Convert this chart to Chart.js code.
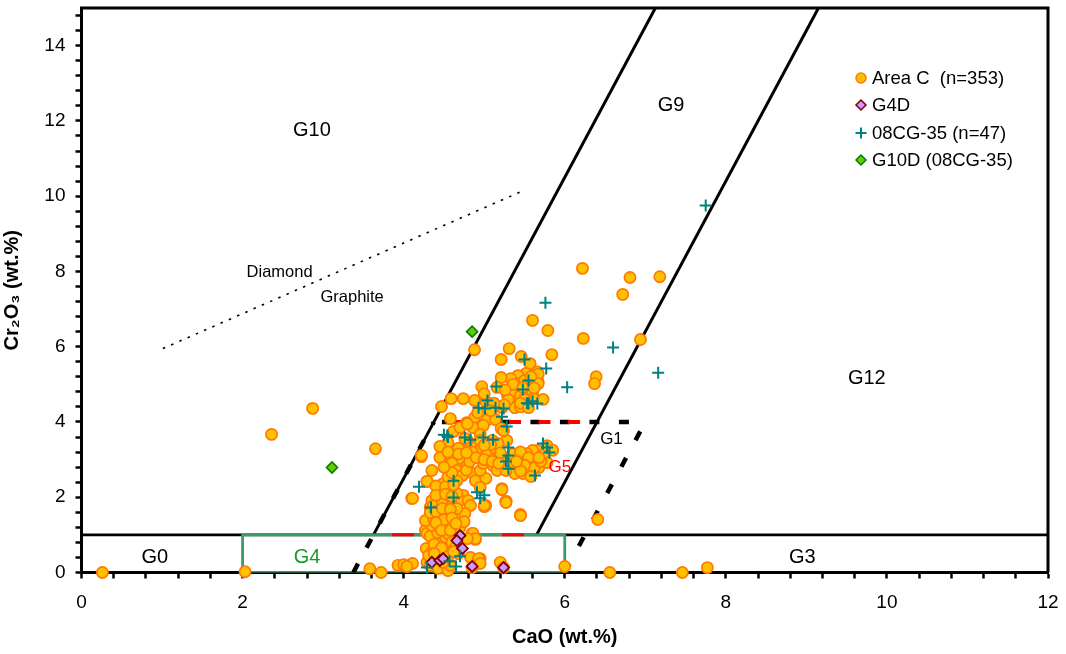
<!DOCTYPE html>
<html>
<head>
<meta charset="utf-8">
<script src="https://cdn.jsdelivr.net/npm/chart.js@4.4.1/dist/chart.umd.min.js"></script>
<style>
  html, body { margin: 0; padding: 0; background: #ffffff; }
  #wrap { width: 1066px; height: 654px; }
</style>
</head>
<body>
<div id="wrap"><canvas id="c" width="1066" height="654"></canvas></div>
<script>
// ---------------- DATA ----------------
// Area C garnets (n=353) — CaO (wt.%) and Cr2O3 (wt.%)
const areaC_CaO = [
  0.26,2.03,2.36,2.87,3.65,3.72,3.58,6.22,6.81,7.18,6.72,5.60,5.79,6.23,6.94,4.88,5.84,6.39,6.37,5.31,
  5.21,5.46,5.57,6.41,6.00,6.56,7.46,7.77,5.45,5.27,5.22,5.00,4.10,4.29,4.22,
  5.66,5.52,5.42,5.33,5.21,5.67,5.56,5.43,4.97,5.16,5.36,5.47,5.60,5.40,5.29,5.32,5.42,5.53,5.61,5.73,
  5.38,5.22,4.59,4.74,4.88,4.47,5.02,4.88,4.58,4.78,5.04,5.14,4.86,4.99,5.21,4.95,5.10,5.28,5.67,5.67,
  5.35,5.45,5.30,5.50,5.25,5.45,
  4.22,4.35,4.29,4.11,4.49,4.58,4.70,4.60,4.79,4.66,4.73,4.66,4.86,4.89,4.49,4.58,4.48,4.64,4.74,4.55,
  4.45,4.37,4.70,4.80,4.33,4.43,4.83,5.02,5.27,5.22,5.02,4.95,4.99,5.07,5.11,5.16,5.22,4.95,5.04,4.91,
  4.83,5.14,5.17,4.79,4.95,5.24,5.45,5.53,5.61,5.66,5.73,5.63,5.42,5.53,5.38,5.48,5.57,5.41,5.35,5.68,
  5.78,5.76,5.60,5.53,5.47,5.78,5.27,
  4.45,4.35,4.45,4.66,4.95,4.27,4.28,4.85,4.89,4.95,4.62,4.70,4.55,4.68,4.85,4.45,4.79,4.76,
  5.45,5.00,5.27,3.93,4.00,4.11,4.04,4.29,4.33,4.42,4.43,4.55,4.31,4.37,4.49,4.52,4.42,4.52,4.29,4.33,
  4.42,4.55,4.43,4.35,4.54,4.27,4.37,4.45,4.33,4.43,4.54,4.37,4.48,4.60,4.68,4.76,4.66,4.55,4.86,4.89,
  4.79,4.60,4.64,4.68,4.83,4.93,4.95,4.85,4.58,5.20,5.24,4.49,
  4.40,4.52,4.62,4.40,4.52,4.60,4.40,4.48,4.58,4.50,4.60,4.40,4.47,4.58,4.38,4.47,4.38,4.55,4.62,4.70,
  4.75,4.65,4.55,4.60,4.78,4.82,4.68,4.78,4.55,4.90,4.50,5.35,5.45,5.55,5.62,5.70,5.50,5.58,5.45,5.68,
  5.40,5.85,5.00,5.08,5.20,5.10,5.00,5.18,5.50,5.58,5.36,5.48,5.62,5.26,5.45,5.55,5.12,5.00,5.08,4.92
];
const areaC_Cr2O3 = [
  0.00,0.02,3.67,4.36,3.29,0.00,0.10,8.08,7.84,7.86,7.39,6.70,6.43,6.22,6.19,5.92,5.79,5.20,5.02,5.95,
  5.66,5.74,5.55,1.41,0.16,0.00,0.00,0.13,1.54,1.89,2.23,1.75,1.97,2.42,3.08,
  5.33,5.29,5.23,5.15,5.18,5.07,5.02,5.02,4.94,4.92,4.84,4.78,4.75,4.65,4.70,4.52,4.57,4.49,4.62,4.60,
  4.38,4.38,4.62,4.62,4.57,4.41,4.54,4.12,4.09,3.98,4.06,4.06,3.85,3.91,3.83,3.67,3.51,3.51,5.27,5.02,
  4.75,4.70,4.60,4.60,4.45,4.40,
  3.11,2.71,2.42,1.97,3.06,3.13,3.03,2.90,2.84,2.71,2.58,2.44,2.63,2.44,2.36,2.23,2.13,2.13,2.05,1.97,
  1.99,1.86,1.91,1.91,1.73,1.78,1.78,1.78,1.89,2.20,2.50,2.71,2.90,3.06,2.84,2.71,3.03,3.11,3.24,3.29,
  3.37,3.29,3.43,3.51,3.51,3.77,2.92,2.98,3.06,3.24,3.11,2.90,2.79,2.71,2.63,2.63,2.66,3.06,2.90,2.79,
  2.92,3.19,3.24,3.16,3.06,3.37,2.71,
  3.06,1.91,1.78,2.10,2.26,1.12,0.64,1.04,0.88,0.37,3.75,3.85,3.45,3.30,3.20,3.35,3.95,3.56,
  1.51,1.78,1.86,0.19,0.21,0.24,0.16,0.27,0.19,0.37,0.11,0.05,0.45,0.61,0.53,0.72,0.85,0.93,1.04,0.96,
  1.06,1.04,1.25,1.25,1.20,1.38,1.43,1.46,1.59,1.65,1.59,1.78,1.83,1.78,1.57,1.57,1.70,1.57,1.04,0.90,
  0.90,0.80,0.66,0.50,0.40,0.37,0.24,0.13,0.19,0.27,0.13,0.27,
  2.30,2.28,2.33,2.05,2.08,2.02,1.62,1.70,1.68,1.40,1.45,1.32,1.12,1.12,0.75,0.65,0.50,0.42,0.55,1.20,
  1.35,1.30,2.55,2.65,2.72,2.95,3.15,3.18,3.20,3.05,2.80,3.15,3.20,3.05,2.78,2.95,2.85,2.55,2.70,3.05,
  2.95,3.25,3.00,3.40,3.18,2.95,3.38,2.90,5.10,5.20,5.00,4.92,4.90,4.85,4.50,4.38,4.50,4.75,4.30,4.25
];
// G4D diamonds
const g4d_CaO   = [4.35,4.45,4.49,4.70,4.66,4.73,4.85,5.24];
const g4d_Cr2O3 = [0.27,0.32,0.37,0.98,0.85,0.64,0.16,0.13];
// 08CG-35 (n=47)
const cg35_CaO = [
  7.75,5.76,6.60,7.16,6.03,5.77,5.50,5.55,5.48,5.66,5.55,5.15,5.04,4.93,5.01,5.14,5.24,5.22,5.28,4.54,
  4.76,4.99,5.11,5.30,5.30,5.73,5.78,5.81,5.30,5.63,4.19,4.62,4.62,4.91,4.95,4.34,4.70,4.29,4.65,4.55,
  4.83,5.53,5.00,5.27,4.57,5.60,4.50
];
const cg35_Cr2O3 = [
  9.75,7.17,5.98,5.31,4.92,5.42,5.66,5.10,4.86,4.49,4.49,4.94,4.57,4.38,4.36,4.38,4.36,4.14,3.88,3.64,
  3.59,3.59,3.53,3.32,3.11,3.43,3.32,3.19,2.76,2.58,2.28,2.44,1.99,2.13,1.97,1.73,0.43,0.13,0.16,3.60,
  3.53,4.50,2.05,2.95,0.30,4.55,3.66
];
// G10D (08CG-35)
const g10d_CaO   = [3.11,4.85];
const g10d_Cr2O3 = [2.79,6.40];

// Classification boundaries
const bG10G9_CaO  = [3.625, 7.125], bG10G9_Cr  = [1, 15];
const bG9G12_CaO  = [5.65, 9.15],   bG9G12_Cr  = [1, 15];
const bLow_CaO    = [0, 12],        bLow_Cr    = [1, 1];
const bG4_CaO     = [2, 2, 6, 6, 2], bG4_Cr    = [0, 1, 1, 0, 0];
const bG10dash_CaO = [3.375, 4.375], bG10dash_Cr = [0, 4];
const bG1dash_CaO  = [6.0, 7.0],     bG1dash_Cr  = [0, 4];
const bY4_CaO      = [4.475, 6.8],   bY4_Cr      = [4, 4];
const bY4red_CaO   = [4.575, 6.4],   bY4red_Cr   = [4, 4];
const bY1red_CaO   = [3.855, 5.65],  bY1red_Cr   = [1, 1];
const bDG_CaO      = [1.01, 5.51],   bDG_Cr      = [5.95, 10.17];

const xMin = 0, xMax = 12, yMin = 0, yMax = 15, tickStep = 0.4, labelStep = 2;

const regionLabels = [
  {t:'G10', x:2.86, y:11.74, s:20, c:'#000'},
  {t:'G9',  x:7.32, y:12.40, s:20, c:'#000'},
  {t:'G12', x:9.75, y:5.16,  s:20, c:'#000'},
  {t:'G1',  x:6.58, y:3.54,  s:17, c:'#000'},
  {t:'G5',  x:5.94, y:2.80,  s:17, c:'#ff0000'},
  {t:'G0',  x:0.91, y:0.41,  s:20, c:'#000'},
  {t:'G4',  x:2.80, y:0.41,  s:20, c:'#1b9a2a'},
  {t:'G3',  x:8.95, y:0.41,  s:20, c:'#000'},
  {t:'Diamond',  x:2.46, y:7.97, s:16.5, c:'#000'},
  {t:'Graphite', x:3.36, y:7.31, s:16.5, c:'#000'}
];

const legendItems = [
  {t:'Area C  (n=353)',  m:'circle'},
  {t:'G4D',              m:'g4d'},
  {t:'08CG-35 (n=47)',   m:'cross'},
  {t:'G10D (08CG-35)',   m:'g10d'}
];

// ---------------- STYLE / BUILD ----------------
const FONT = 'Arial, "Liberation Sans", Helvetica, sans-serif';
const pts = (xs, ys) => xs.map((x, i) => ({x: x, y: ys[i]}));
const isMajor = v => Math.abs(v / labelStep - Math.round(v / labelStep)) < 1e-6;

const STY = {
  areaC: {fill:'#ffc000', stroke:'#ff7a00'},
  g4d:   {fill:'#cc99ff', stroke:'#800000'},
  cross: {stroke:'#008080'},
  g10d:  {fill:'#66cc00', stroke:'#008000'},
  box:   '#3d9a6a'
};

function lineDS(xs, ys, color, width, dash, order) {
  return {
    label: '', data: pts(xs, ys), showLine: true, pointRadius: 0, pointHoverRadius: 0,
    borderColor: color, borderWidth: width, borderDash: dash || [], fill: false,
    order: order, borderCapStyle: 'butt', borderJoinStyle: 'miter', tension: 0
  };
}

const datasets = [
  {label:'G10D (08CG-35)', data: pts(g10d_CaO, g10d_Cr2O3), pointStyle:'rectRot', pointRadius:5.5,
   backgroundColor: STY.g10d.fill, borderColor: STY.g10d.stroke, borderWidth:1.6, order:0, clip:false},
  {label:'08CG-35 (n=47)', data: pts(cg35_CaO, cg35_Cr2O3), pointStyle:'cross', pointRadius:6,
   borderColor: STY.cross.stroke, backgroundColor: STY.cross.stroke, borderWidth:2, order:1, clip:false},
  {label:'G4D', data: pts(g4d_CaO, g4d_Cr2O3), pointStyle:'rectRot', pointRadius:5.5,
   backgroundColor: STY.g4d.fill, borderColor: STY.g4d.stroke, borderWidth:1.8, order:2, clip:false},
  {label:'Area C  (n=353)', data: pts(areaC_CaO, areaC_Cr2O3), pointStyle:'circle', pointRadius:5.6,
   backgroundColor: STY.areaC.fill, borderColor: STY.areaC.stroke, borderWidth:1.7, order:3, clip:false},
  lineDS(bY1red_CaO, bY1red_Cr, '#ff0000', 3, [22, 33], 4),
  lineDS(bY4red_CaO, bY4red_Cr, '#ff0000', 4, [12, 17.5], 5),
  lineDS(bY4_CaO, bY4_Cr, '#000000', 4.5, [10, 19.5], 5),
  lineDS(bG1dash_CaO, bG1dash_Cr, '#000000', 4.5, [10, 20], 5),
  lineDS(bG10dash_CaO, bG10dash_Cr, '#000000', 4.5, [10, 18], 5),
  lineDS(bG4_CaO, bG4_Cr, STY.box, 2.8, [], 6),
  lineDS(bG10G9_CaO, bG10G9_Cr, '#000000', 3, [], 7),
  lineDS(bG9G12_CaO, bG9G12_Cr, '#000000', 3, [], 7),
  lineDS(bLow_CaO, bLow_Cr, '#000000', 2.8, [], 8),
  lineDS(bDG_CaO, bDG_Cr, '#000000', 1.6, [2.5, 6.5], 8)
];

function drawMarker(ctx, kind, x, y) {
  ctx.save();
  ctx.beginPath();
  if (kind === 'circle') {
    ctx.arc(x, y, 5, 0, Math.PI * 2);
    ctx.fillStyle = STY.areaC.fill; ctx.strokeStyle = STY.areaC.stroke; ctx.lineWidth = 1.5;
    ctx.fill(); ctx.stroke();
  } else if (kind === 'g4d' || kind === 'g10d') {
    const r = 5;
    ctx.moveTo(x, y - r); ctx.lineTo(x + r, y); ctx.lineTo(x, y + r); ctx.lineTo(x - r, y); ctx.closePath();
    ctx.fillStyle = STY[kind].fill; ctx.strokeStyle = STY[kind].stroke; ctx.lineWidth = 1.5;
    ctx.fill(); ctx.stroke();
  } else if (kind === 'cross') {
    const r = 5.5;
    ctx.moveTo(x - r, y); ctx.lineTo(x + r, y); ctx.moveTo(x, y - r); ctx.lineTo(x, y + r);
    ctx.strokeStyle = STY.cross.stroke; ctx.lineWidth = 2; ctx.stroke();
  }
  ctx.restore();
}

const framePlugin = {
  id: 'frame',
  beforeDatasetsDraw(chart) {
    const {ctx, chartArea: a} = chart;
    ctx.save();
    ctx.strokeStyle = '#000'; ctx.lineWidth = 3;
    ctx.beginPath();
    ctx.moveTo(a.left - 1.5, a.top); ctx.lineTo(a.right, a.top); ctx.lineTo(a.right, a.bottom);
    ctx.stroke();
    ctx.restore();
  },
  afterDatasetsDraw(chart) {
    const {ctx, scales: {x, y}} = chart;
    ctx.save();
    ctx.textAlign = 'center'; ctx.textBaseline = 'middle';
    regionLabels.forEach(l => {
      ctx.font = l.s + 'px ' + FONT;
      ctx.fillStyle = l.c;
      ctx.fillText(l.t, x.getPixelForValue(l.x), y.getPixelForValue(l.y));
    });
    ctx.restore();
  },
  afterDraw(chart) {
    const {ctx, chartArea: a} = chart;
    const mx = a.right - 187, tx = a.right - 176;
    const rows = [78, 105, 133, 160];
    ctx.save();
    ctx.font = '18.5px ' + FONT;
    ctx.fillStyle = '#000'; ctx.textAlign = 'left'; ctx.textBaseline = 'middle';
    legendItems.forEach((it, i) => {
      drawMarker(ctx, it.m, mx, rows[i]);
      ctx.fillText(it.t, tx, rows[i] + 1);
    });
    ctx.restore();
  }
};

const tickCb = v => isMajor(v) ? String(Math.round(v)) : '';

new Chart(document.getElementById('c').getContext('2d'), {
  type: 'scatter',
  data: { datasets: datasets },
  options: {
    responsive: false, animation: false, devicePixelRatio: 1,
    layout: { padding: { top: 7, right: 18, left: 0, bottom: 0 } },
    plugins: { legend: { display: false }, tooltip: { enabled: false } },
    events: [],
    scales: {
      x: {
        type: 'linear', min: xMin, max: xMax,
        afterFit(s) { s.height = 81.5; s.paddingLeft = 0; s.paddingRight = 0; },
        ticks: { stepSize: tickStep, includeBounds: false, autoSkip: false, maxRotation: 0, minRotation: 0,
                 callback: tickCb, color: '#000', padding: 13, font: { family: FONT, size: 19 } },
        grid: { display: true, drawOnChartArea: false, drawTicks: true, tickLength: 6, tickWidth: 2.5, tickColor: '#000', color: '#000' },
        border: { display: true, color: '#000', width: 3 },
        title: { display: true, text: 'CaO (wt.%)', color: '#000', padding: { top: 0, bottom: 5 },
                 font: { family: FONT, size: 20, weight: 'bold' } }
      },
      y: {
        type: 'linear', min: yMin, max: yMax,
        afterFit(s) { s.width = 81.5; s.paddingTop = 0; s.paddingBottom = 0; },
        ticks: { stepSize: tickStep, includeBounds: false, autoSkip: false,
                 callback: tickCb, color: '#000', padding: 10, font: { family: FONT, size: 19 } },
        grid: { display: true, drawOnChartArea: false, drawTicks: true, tickLength: 6, tickWidth: 2.5, tickColor: '#000', color: '#000' },
        border: { display: true, color: '#000', width: 3 },
        title: { display: true, text: 'Cr\u2082O\u2083 (wt.%)', color: '#000', padding: { top: 0, bottom: 8 },
                 font: { family: FONT, size: 20, weight: 'bold' } }
      }
    }
  },
  plugins: [framePlugin]
});
</script>
</body>
</html>
